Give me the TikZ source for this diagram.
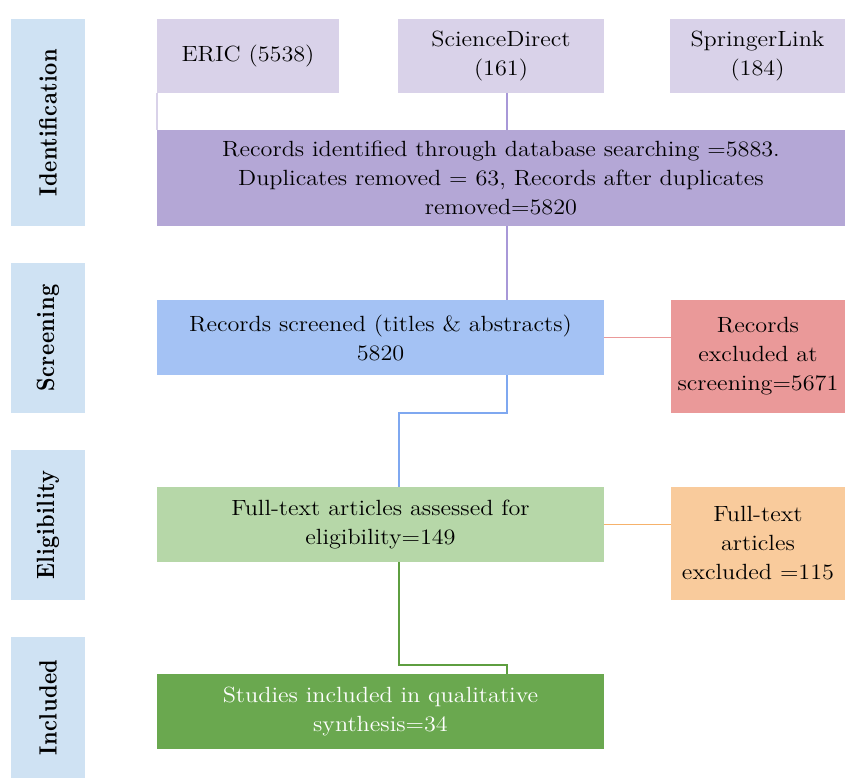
\documentclass[tikz,border=0pt]{standalone}
\usepackage{fontspec}
\newfontfamily\boxfont{lmroman12-regular.otf}[FakeStretch=1.10]
\newfontfamily\sidefont{lmroman10-bold.otf}[FakeStretch=0.85,LetterSpace=2]
\definecolor{sidebl}{HTML}{CFE2F3}
\definecolor{dbbox}{HTML}{D9D2E9}
\definecolor{idbox}{HTML}{B4A7D6}
\definecolor{scrbox}{HTML}{A4C2F4}
\definecolor{exbox}{HTML}{EA9999}
\definecolor{elbox}{HTML}{B6D7A8}
\definecolor{ftex}{HTML}{F9CB9C}
\definecolor{incbox}{HTML}{6AA84F}
\definecolor{oline}{HTML}{F6B26B}
\definecolor{bline}{HTML}{7FA8F0}
\definecolor{pline}{HTML}{A898D8}
\definecolor{gline}{HTML}{5E9E40}
\begin{document}
\begin{tikzpicture}[x=1pt,y=-1pt,
  boxstyle/.style={inner sep=0pt, outer sep=0pt, align=center, anchor=center,
    font=\boxfont\fontsize{22}{29}\selectfont},
  sidestyle/.style={fill=sidebl, inner sep=0pt, outer sep=0pt, minimum width=74pt, anchor=center},
  sidetext/.style={rotate=90, font=\sidefont\fontsize{25}{28}\selectfont},
  link/.style={line width=1.1pt}]
\useasboundingbox (0,0) rectangle (845,778);
% side labels
\node[sidestyle, minimum height=207pt] (sid) at (48,122.5) {};
\node[sidetext] (tid) at (sid.center) {Identification};
\node[sidestyle, minimum height=150pt] (ssc) at (48,338) {};
\node[sidetext] (tsc) at (ssc.center) {Screening};
\node[sidestyle, minimum height=150pt] (sel) at (48,525) {};
\node[sidetext] (tel) at (sel.center) {Eligibility};
\node[sidestyle, minimum height=141pt] (sin) at (48,707.5) {};
\node[sidetext] (tin) at (sin.center) {Included};
% database boxes
\node[boxstyle, fill=dbbox, minimum width=182pt, minimum height=74pt] (eric) at (248,56) {ERIC (5538)};
\node[boxstyle, fill=dbbox, minimum width=206pt, minimum height=74pt] (sd) at (501,56) {ScienceDirect\\(161)};
\node[boxstyle, fill=dbbox, minimum width=175pt, minimum height=74pt] (sl) at (757.5,56) {SpringerLink\\(184)};
% identified
\node[boxstyle, fill=idbox, minimum width=688pt, minimum height=96pt] (ident) at (501,178) {Records identified through database searching =5883.\\Duplicates removed = 63, Records after duplicates\\removed=5820};
% screening
\node[boxstyle, fill=scrbox, minimum width=447pt, minimum height=75pt] (scr) at (380.5,337.5) {Records screened (titles \& abstracts)\\5820};
\node[boxstyle, fill=exbox, minimum width=174pt, minimum height=113pt] (exc) at (758,356.5) {Records\\excluded at\\screening=5671};
% eligibility
\node[boxstyle, fill=elbox, minimum width=447pt, minimum height=75pt] (elig) at (380.5,524.5) {Full-text articles assessed for\\eligibility=149};
\node[boxstyle, fill=ftex, minimum width=174pt, minimum height=113pt] (ftx) at (758,543.5) {Full-text\\articles\\excluded =115};
% included
\node[boxstyle, fill=incbox, text=white, minimum width=447pt, minimum height=75pt] (inc) at (380.5,711.5) {Studies included in qualitative\\synthesis=34};
% connectors
\draw[link, draw=dbbox] (eric.south west) -- (eric.south west |- ident.north);
\draw[link, draw=pline] (sd.south -| 507,0) -- (ident.north -| 507,0);
\draw[link, draw=pline] (ident.south -| 507,0) -- (scr.north -| 507,0);
\coordinate (b1) at (507,413);
\coordinate (b2) at (399,413);
\draw[link, draw=bline] (scr.south -| b1) -- (b1) -- (b2) -- (elig.north -| b2);
\draw[link, draw=exbox] (scr.east) -- (scr.east -| exc.west);
\draw[link, draw=oline] (elig.east) -- (elig.east -| ftx.west);
\coordinate (g1) at (399,665);
\coordinate (g2) at (507,665);
\draw[link, draw=gline] (elig.south -| g1) -- (g1) -- (g2) -- (inc.north -| g2);
\end{tikzpicture}
\end{document}
